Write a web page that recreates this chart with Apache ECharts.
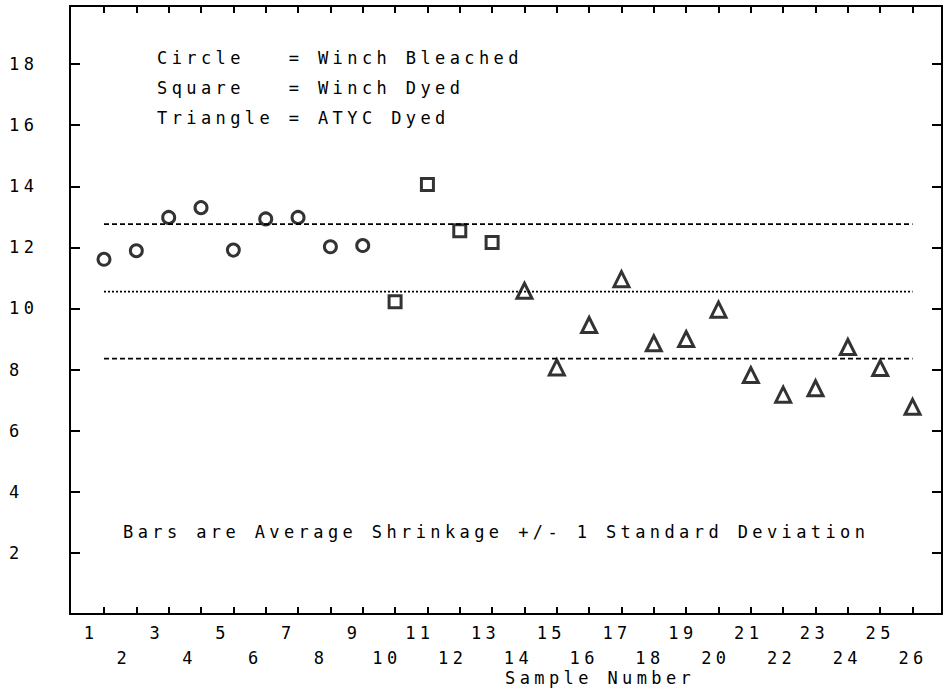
<!DOCTYPE html>
<html>
<head>
<meta charset="utf-8">
<title>Sample shrinkage</title>
<script src="https://cdn.jsdelivr.net/npm/echarts@6/dist/echarts.min.js"></script>
<style>
    html, body { margin: 0; padding: 0; background: #fff; }
    #chart { width: 945px; height: 695px; }
    /* old plotter lettering is widely spaced */
    #chart text { letter-spacing: 4.4px; white-space: pre; }
</style>
</head>
<body>
<div id="chart"></div>
<script>
// sample numbers on the x axis
const samples = [1, 2, 3, 4, 5, 6, 7, 8, 9, 10, 11, 12, 13, 14, 15, 16, 17, 18, 19, 20, 21, 22, 23, 24, 25, 26];

// circle = Winch Bleached
const circleSamples = [1, 2, 3, 4, 5, 6, 7, 8, 9];
const circleValues = [11.61, 11.89, 12.98, 13.30, 11.91, 12.93, 12.98, 12.02, 12.06];

// square = Winch Dyed
const squareSamples = [10, 11, 12, 13];
const squareValues = [10.22, 14.06, 12.54, 12.16];

// triangle = ATYC Dyed
const triangleSamples = [14, 15, 16, 17, 18, 19, 20, 21, 22, 23, 24, 25, 26];
const triangleValues = [10.58, 8.07, 9.46, 10.96, 8.86, 9.00, 9.96, 7.82, 7.18, 7.39, 8.74, 8.05, 6.78];

// average shrinkage +/- 1 standard deviation
const refNames = ['Average + 1 SD', 'Average', 'Average - 1 SD'];
const refLevels = [12.76, 10.55, 8.36];
const refSpan = [1, 26];

// y tick labels
const yTicks = [2, 4, 6, 8, 10, 12, 14, 16, 18];

const FONT = '"DejaVu Sans Mono", monospace';
const FS = 17;
const INK = '#000';

const chart = echarts.init(document.getElementById('chart'), null, { renderer: 'svg' });

const frameAxis = {
    type: 'value',
    gridIndex: 0,
    splitLine: { show: false },
    axisLine: { show: true, onZero: false, lineStyle: { color: INK, width: 2 } },
    axisLabel: { show: false }
};

const option = {
    backgroundColor: '#fff',
    animation: false,
    title: [
        {
            text: 'Circle   = Winch Bleached\nSquare   = Winch Dyed\nTriangle = ATYC Dyed',
            left: 157, top: 43, padding: 0,
            textStyle: { fontFamily: FONT, fontSize: FS, fontWeight: 'normal', color: INK, lineHeight: 30 }
        },
        {
            text: 'Bars are Average Shrinkage +/- 1 Standard Deviation',
            left: 123, top: 517, padding: 0,
            textStyle: { fontFamily: FONT, fontSize: FS, fontWeight: 'normal', color: INK, lineHeight: 30 }
        },
        {
            text: 'Sample Number',
            left: 505, top: 668, padding: 0,
            textStyle: { fontFamily: FONT, fontSize: FS, fontWeight: 'normal', color: INK, lineHeight: 20 }
        }
    ],
    grid: [
        { left: 70, right: 3, top: 6, bottom: 81 },
        // the sample labels sit on a slightly wider scale than the ticks
        { left: 70, right: 3, top: 6, bottom: 81 }
    ],
    xAxis: [
        Object.assign({}, frameAxis, {
            position: 'bottom', min: -0.051, max: 26.91,
            axisTick: { show: true, inside: true, length: 7, customValues: samples, lineStyle: { color: INK, width: 2 } }
        }),
        Object.assign({}, frameAxis, {
            position: 'top', min: -0.051, max: 26.91,
            axisTick: { show: true, inside: true, length: 7, customValues: samples, lineStyle: { color: INK, width: 2 } }
        }),
        {
            type: 'value', gridIndex: 1, position: 'bottom',
            min: 0.361, max: 26.88,
            axisLine: { show: false },
            axisTick: { show: false },
            splitLine: { show: false },
            axisLabel: {
                show: true, interval: 0, customValues: samples,
                margin: 6, fontFamily: FONT, fontSize: FS, color: INK, lineHeight: 25,
                formatter: v => (v % 2 === 1 ? String(v) : '\n' + v)
            }
        }
    ],
    yAxis: [
        Object.assign({}, frameAxis, {
            position: 'left', min: 0, max: 19.9,
            axisTick: { show: true, inside: true, length: 10, customValues: yTicks, lineStyle: { color: INK, width: 2 } },
            axisLabel: {
                show: true, customValues: yTicks, align: 'left', margin: 61,
                fontFamily: FONT, fontSize: FS, color: INK
            }
        }),
        Object.assign({}, frameAxis, {
            position: 'right', min: 0, max: 19.9,
            axisTick: { show: true, inside: true, length: 10, customValues: yTicks, lineStyle: { color: INK, width: 2 } }
        }),
        { type: 'value', gridIndex: 1, show: false, min: 0, max: 19.9 }
    ],
    series: [
        ...refLevels.map((lvl, i) => ({
            name: refNames[i],
            type: 'line',
            xAxisIndex: 0, yAxisIndex: 0,
            z: 1,
            silent: true,
            symbol: 'none',
            data: refSpan.map(x => [x, lvl]),
            lineStyle: { color: INK, width: 1.8, type: i === 1 ? [2, 2] : [5, 3] }
        })),
        {
            name: 'Winch Bleached',
            type: 'scatter',
            xAxisIndex: 0, yAxisIndex: 0,
            symbol: 'circle', symbolSize: 12,
            data: circleSamples.map((s, i) => [s, circleValues[i]]),
            itemStyle: { color: 'transparent', borderColor: INK, borderWidth: 3 }
        },
        {
            name: 'Winch Dyed',
            type: 'scatter',
            xAxisIndex: 0, yAxisIndex: 0,
            symbol: 'rect', symbolSize: 12,
            data: squareSamples.map((s, i) => [s, squareValues[i]]),
            itemStyle: { color: 'transparent', borderColor: INK, borderWidth: 3 }
        },
        {
            name: 'ATYC Dyed',
            type: 'scatter',
            xAxisIndex: 0, yAxisIndex: 0,
            symbol: 'triangle', symbolSize: 15,
            data: triangleSamples.map((s, i) => [s, triangleValues[i]]),
            itemStyle: { color: 'transparent', borderColor: INK, borderWidth: 3 }
        }
    ]
};

chart.setOption(option);

window.addEventListener('resize', () => {
    chart.resize();
});
</script>
</body>
</html>
